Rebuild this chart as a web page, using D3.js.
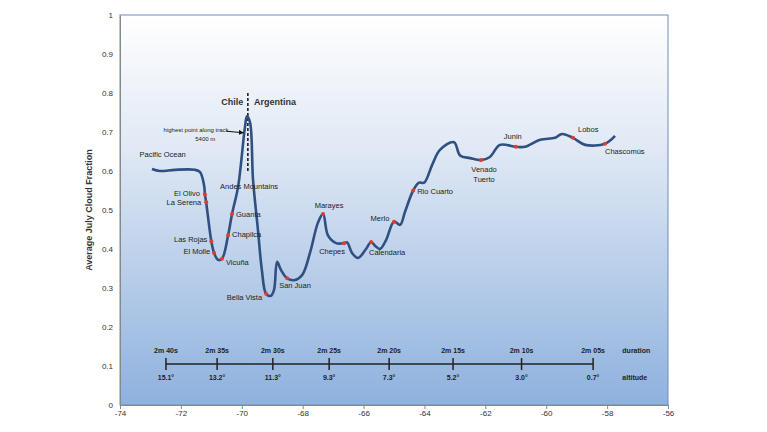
<!DOCTYPE html>
<html><head><meta charset="utf-8">
<script src="https://cdn.jsdelivr.net/npm/d3@7"></script>
<style>
body{margin:0;background:#fff;font-family:"Liberation Sans",Arial,sans-serif}
</style></head>
<body><div id="chart" style="width:767px;height:432px"></div>
<script>
// track longitude vs cloud fraction
const trackLon = [-72.95,-72.69,-72.19,-71.54,-71.37,-71.24,-71.21,-71.17,-71.0,-70.91,-70.78,-70.65,-70.45,-70.32,-70.12,-69.9,-69.83,-69.73,-69.63,-69.47,-69.34,-69.2,-69.04,-68.94,-68.84,-68.71,-68.51,-68.28,-68.02,-67.76,-67.5,-67.33,-67.17,-66.9,-66.64,-66.54,-66.38,-66.18,-65.92,-65.75,-65.62,-65.46,-65.26,-65.0,-64.8,-64.64,-64.37,-64.18,-64.01,-63.75,-63.49,-63.03,-62.83,-62.5,-62.14,-61.85,-61.52,-61.0,-60.7,-60.2,-59.71,-59.48,-59.12,-58.72,-58.07,-57.74];
const trackCloud = [0.605,0.6,0.603,0.603,0.597,0.564,0.54,0.52,0.42,0.39,0.372,0.375,0.435,0.49,0.56,0.71,0.74,0.725,0.577,0.45,0.346,0.285,0.28,0.295,0.367,0.346,0.325,0.32,0.333,0.39,0.467,0.49,0.435,0.415,0.415,0.417,0.39,0.377,0.4,0.418,0.408,0.4,0.423,0.47,0.462,0.495,0.55,0.57,0.57,0.615,0.654,0.674,0.64,0.633,0.628,0.636,0.667,0.662,0.662,0.68,0.685,0.695,0.685,0.667,0.67,0.69];

const townNames = ["El Olivo","La Serena","Las Rojas","El Molle","Vicuña","Chapilca","Guanta","Bella Vista","San Juan","Marayes","Chepes","Calendaria","Merlo","Rio Cuarto","Venado Tuerto","Junin","Lobos","Chascomús"];
const townLon = [-71.21,-71.17,-71.0,-70.91,-70.65,-70.45,-70.32,-69.2,-68.51,-67.33,-66.64,-65.75,-65.0,-64.37,-62.14,-61.0,-59.12,-58.07];
const townCloud = [0.54,0.52,0.42,0.39,0.375,0.435,0.49,0.285,0.325,0.49,0.415,0.418,0.47,0.55,0.628,0.662,0.685,0.67];

const durLon = [-72.49,-70.81,-68.98,-67.13,-65.16,-63.06,-60.81,-58.46];
const durLabels = ["2m 40s","2m 35s","2m 30s","2m 25s","2m 20s","2m 15s","2m 10s","2m 05s"];
const altLabels = ["15.1°","13.2°","11.3°","9.3°","7.3°","5.2°","3.0°","0.7°"];
const durLevel = 0.105;

const xTicks = [-74,-72,-70,-68,-66,-64,-62,-60,-58,-56];
const yTicks = [0,0.1,0.2,0.3,0.4,0.5,0.6,0.7,0.8,0.9,1];

const W = 767, H = 432;
const m = {left:120, right:99, top:15, bottom:27};
const svg = d3.select("#chart").append("svg").attr("width",W).attr("height",H);
const x = d3.scaleLinear().domain([-74,-56]).range([m.left, W-m.right]);
const y = d3.scaleLinear().domain([0,1]).range([H-m.bottom, m.top]);

const defs = svg.append("defs");
const grad = defs.append("linearGradient").attr("id","bg")
  .attr("x1",0).attr("y1",0).attr("x2",0).attr("y2",1);
grad.append("stop").attr("offset","0%").attr("stop-color","#ffffff");
grad.append("stop").attr("offset","35%").attr("stop-color","#dfe8f4");
grad.append("stop").attr("offset","100%").attr("stop-color","#8eb1de");

svg.append("rect").attr("x",x(-74)).attr("y",y(1)).attr("width",x(-56)-x(-74)).attr("height",y(0)-y(1))
  .attr("fill","url(#bg)").attr("stroke","#6f8fb8").attr("stroke-width",1);

// axes
const xa = svg.append("g").attr("transform",`translate(0,${y(0)})`)
  .call(d3.axisBottom(x).tickValues(xTicks).tickSize(4).tickSizeOuter(0).tickFormat(d=>String(d)));
const ya = svg.append("g").attr("transform",`translate(${x(-74)},0)`)
  .call(d3.axisLeft(y).tickValues(yTicks).tickSize(0).tickFormat(d=>d===0||d===1?d:d3.format(".1f")(d)));
[xa,ya].forEach(a=>{a.selectAll("text").attr("font-size",8).attr("fill","#333");a.select(".domain").attr("stroke","#888");a.selectAll("line").attr("stroke","#888");});
ya.selectAll("text").attr("dx",-4);
xa.selectAll("text").attr("dy",4);

svg.append("text").attr("transform",`translate(92,${y(0.5)}) rotate(-90)`).attr("text-anchor","middle")
  .attr("font-size",9).attr("font-weight","bold").attr("fill","#333").text("Average July Cloud Fraction");

// duration/altitude scale
const ds = svg.append("g");
ds.append("line").attr("x1",x(durLon[0])).attr("x2",x(durLon[durLon.length-1]))
  .attr("y1",y(durLevel)).attr("y2",y(durLevel)).attr("stroke","#222").attr("stroke-width",1.5);
durLon.forEach((d,i)=>{
  ds.append("line").attr("x1",x(d)).attr("x2",x(d)).attr("y1",y(durLevel)-6).attr("y2",y(durLevel)+6).attr("stroke","#222").attr("stroke-width",1.5);
  ds.append("text").attr("x",x(d)).attr("y",y(durLevel)-11).attr("text-anchor","middle").attr("font-size",7).attr("font-weight","bold").attr("fill","#222").text(durLabels[i]);
  ds.append("text").attr("x",x(d)).attr("y",y(durLevel)+16).attr("text-anchor","middle").attr("font-size",7).attr("font-weight","bold").attr("fill","#222").text(altLabels[i]);
});
ds.append("text").attr("x",x(-57.5)).attr("y",y(durLevel)-11).attr("font-size",7).attr("font-weight","bold").attr("fill","#222").text("duration");
ds.append("text").attr("x",x(-57.5)).attr("y",y(durLevel)+16).attr("font-size",7).attr("font-weight","bold").attr("fill","#222").text("altitude");

// border
svg.append("line").attr("x1",x(-69.8)).attr("x2",x(-69.8)).attr("y1",y(0.8)).attr("y2",y(0.6))
  .attr("stroke","#111").attr("stroke-width",1.5).attr("stroke-dasharray","3,2");
svg.append("text").attr("x",x(-69.95)).attr("y",y(0.77)).attr("text-anchor","end").attr("font-size",9).attr("font-weight","bold").attr("fill","#333").text("Chile");
svg.append("text").attr("x",x(-69.6)).attr("y",y(0.77)).attr("font-size",9).attr("font-weight","bold").attr("fill","#333").text("Argentina");

// curve
const line = d3.line().x((d,i)=>x(trackLon[i])).y((d,i)=>y(trackCloud[i])).curve(d3.curveCatmullRom.alpha(0.5));
svg.append("path").datum(trackCloud).attr("d",line).attr("fill","none").attr("stroke","#2f5080").attr("stroke-width",2.6);

svg.selectAll("circle.town").data(townNames).enter().append("circle")
  .attr("cx",(d,i)=>x(townLon[i])).attr("cy",(d,i)=>y(townCloud[i])).attr("r",2).attr("fill","#e53a2e");

// label offsets [dx, dy, anchor]
const off = {"El Olivo":[-5,2,"end"],"La Serena":[-5,3,"end"],"Las Rojas":[-4,1,"end"],"El Molle":[-4,1,"end"],
 "Vicuña":[4,6,"start"],"Chapilca":[4,2,"start"],"Guanta":[4,3,"start"],"Bella Vista":[-4,6,"end"],"San Juan":[-8,10,"start"],
 "Marayes":[6,-6,"middle"],"Chepes":[-12,11,"middle"],"Calendaria":[16,13,"middle"],"Merlo":[-14,-1,"middle"],"Rio Cuarto":[4,3,"start"],
 "Venado Tuerto":[3,12,"middle"],"Junin":[-3,-8,"middle"],"Lobos":[5,-6,"start"],"Chascomús":[0,10,"start"]};
townNames.forEach((n,i)=>{
  const o = off[n];
  const t = svg.append("text").attr("x",x(townLon[i])+o[0]).attr("y",y(townCloud[i])+o[1]).attr("text-anchor",o[2])
    .attr("font-size",7.5).attr("fill","#222");
  if(n==="Venado Tuerto"){t.append("tspan").text("Venado");t.append("tspan").attr("x",x(townLon[i])+o[0]).attr("dy",10).text("Tuerto");}
  else t.text(n);
});
svg.append("text").attr("x",x(-72.6)).attr("y",y(0.637)).attr("text-anchor","middle").attr("font-size",7.5).attr("fill","#222").text("Pacific Ocean");
svg.append("text").attr("x",x(-69.76)).attr("y",y(0.555)).attr("text-anchor","middle").attr("font-size",7.5).attr("fill","#222").text("Andes Mountains");

// peak annotation
svg.append("text").attr("x",x(-71.5)).attr("y",y(0.7)).attr("text-anchor","middle").attr("font-size",6).attr("fill","#222").text("highest point along track");
svg.append("text").attr("x",x(-71.2)).attr("y",y(0.678)).attr("text-anchor","middle").attr("font-size",6).attr("fill","#222").text("5400 m");
defs.append("marker").attr("id","ar").attr("viewBox","0 0 10 10").attr("refX",9).attr("refY",5)
  .attr("markerWidth",5).attr("markerHeight",5).attr("orient","auto").append("path").attr("d","M0,0L10,5L0,10z").attr("fill","#111");
svg.append("line").attr("x1",x(-70.5)).attr("y1",y(0.702)).attr("x2",x(-69.95)).attr("y2",y(0.698))
  .attr("stroke","#111").attr("stroke-width",1).attr("marker-end","url(#ar)");
</script></body></html>
